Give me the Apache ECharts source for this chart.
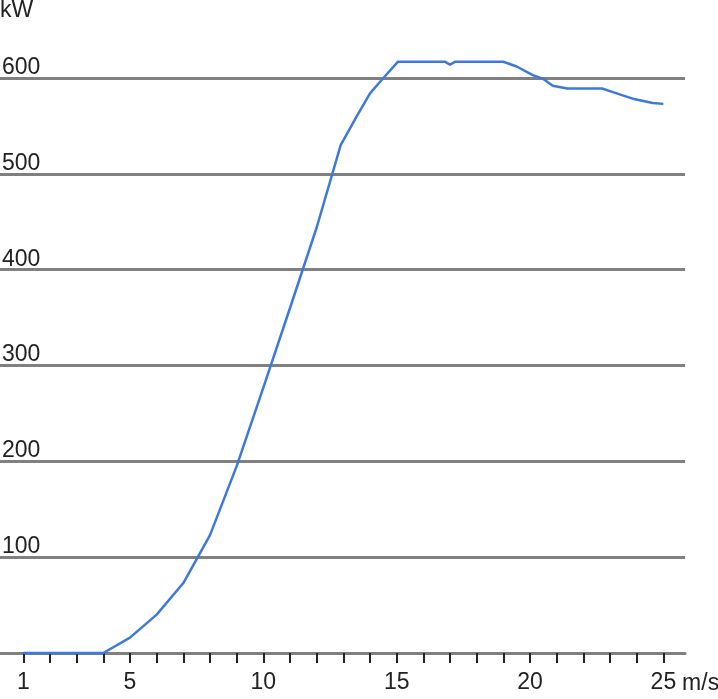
<!DOCTYPE html>
<html>
<head>
<meta charset="utf-8">
<script src="https://cdn.jsdelivr.net/npm/echarts@6/dist/echarts.min.js"></script>
<style>
html,body{margin:0;padding:0;background:#fff;}
#chart{width:718px;height:699px;}
</style>
</head>
<body>
<div id="chart"></div>
<script>
// Wind speed (m/s) and power output (kW)
const windSpeed = [1, 2, 3, 4, 5, 6, 7, 8, 9, 10, 11, 12, 12.9, 13.5, 14, 14.5, 15.05, 16, 16.8, 17, 17.2, 18, 19, 19.5, 20.1, 20.5, 20.85, 21.4, 22.7, 23.25, 23.9, 24.6, 25];
const powerKW   = [0, 0, 0, 0, 16, 40, 73, 123, 195, 277, 360, 444, 530, 560, 584, 600, 617, 617, 617, 614, 617, 617, 617, 612, 603, 599, 592, 589, 589, 584, 578, 574, 573];
const xTickValues = [1,2,3,4,5,6,7,8,9,10,11,12,13,14,15,16,17,18,19,20,21,22,23,24,25];
const xLabelValues = [1, 5, 10, 15, 20, 25];
const yTickValues = [0, 100, 200, 300, 400, 500, 600];

const FONT = "'Liberation Sans Narrow', 'Liberation Sans', sans-serif";
const chart = echarts.init(document.getElementById('chart'));
chart.setOption({
  animation: false,
  grid: { left: 0, right: 33, top: 78, bottom: 46, containLabel: false, outerBoundsMode: 'none' },
  xAxis: {
    type: 'value',
    min: 0.126,
    max: 25.81,
    name: 'm/s',
    nameLocation: 'end',
    nameGap: -8,
    nameTextStyle: { fontFamily: FONT, fontSize: 23, color: '#222', align: 'left', verticalAlign: 'top', padding: [19, 0, 0, 0] },
    axisLine: { show: true, lineStyle: { color: '#808080', width: 3 } },
    axisTick: { show: true, customValues: xTickValues, length: 10, lineStyle: { color: '#222', width: 2 } },
    axisLabel: { customValues: xLabelValues, margin: 18, fontFamily: FONT, fontSize: 23, color: '#222' },
    splitLine: { show: false }
  },
  yAxis: {
    type: 'value',
    min: 0,
    max: 600,
    interval: 100,
    name: 'kW',
    nameLocation: 'end',
    nameGap: 56,
    nameTextStyle: { fontFamily: FONT, fontSize: 23, color: '#222', align: 'left', verticalAlign: 'bottom' },
    axisLine: { show: false },
    axisTick: { show: false },
    axisLabel: {
      inside: true, margin: 2, showMinLabel: false,
      fontFamily: FONT, fontSize: 23, color: '#222',
      align: 'left', verticalAlign: 'bottom', padding: [0, 0, -1, 0]
    },
    splitLine: { show: true, lineStyle: { color: '#808080', width: 3 } }
  },
  series: [{
    type: 'line',
    data: windSpeed.map((x, i) => [x, powerKW[i]]),
    showSymbol: false,
    clip: false,
    lineStyle: { color: '#3d79dc', width: 2.5 }
  }]
});
</script>
</body>
</html>
